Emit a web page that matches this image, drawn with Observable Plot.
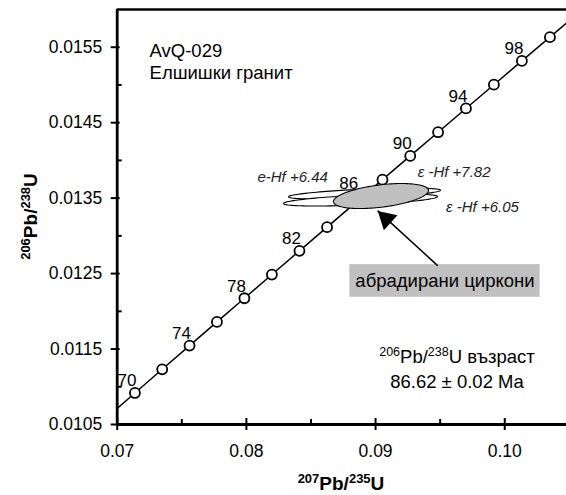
<!DOCTYPE html>
<html><head><meta charset="utf-8">
<script src="https://cdn.jsdelivr.net/npm/d3@7"></script>
<script src="https://cdn.jsdelivr.net/npm/@observablehq/plot@0.6"></script>
<style>
body{margin:0;background:#fff;}
svg{display:block;}
</style>
</head><body><div id="chart"></div>
<script>
// Concordia points (age in Ma, 207Pb/235U, 206Pb/238U)
const ages = [70,72,74,76,78,80,82,84,86,88,90,92,94,96,98,100];
const pb207u235 = [0.0713714,0.0734838,0.0756003,0.0777210,0.0798458,0.0819749,0.0841082,0.0862456,0.0883873,0.0905333,0.0926835,0.0948377,0.0969968,0.0991592,0.1013263,0.1034976];
const pb206u238 = [0.0109179,0.0112316,0.0115454,0.0118593,0.0121733,0.0124873,0.0128015,0.0131158,0.0134301,0.0137446,0.0140592,0.0143738,0.0146886,0.0150034,0.0153184,0.0156334];
// extension of concordia beyond the frame
const extAges = [68,102];
const extX = [0.0692632,0.1056728];
const extY = [0.0106043,0.0159486];
const labeledAges = [70,74,78,82,90,94,98];
const labeledAgeLow = [86];

// error ellipses
const ellName = ["e-Hf +6.44","ε -Hf +6.05","ε -Hf +7.82"];
const ellCX = [0.089141,0.088831,0.090418];
const ellCY = [0.013561,0.013475,0.013528];
const ellSX = [0.005882,0.005960,0.003676];
const ellSY = [0.0000729,0.0000795,0.0001657];
const ellRho = [0.60,0.58,0.44];
const ellFill = ["white","white","#c0c0c0"];

// Hf labels
const hfText = ["e-Hf +6.44","ε -Hf +7.82","ε -Hf +6.05"];
const hfX = [0.080853,0.093256,0.095450];
const hfY = [0.013775,0.013842,0.013378];

// axes
const xDomain = [0.07, 0.10478];
const yDomain = [0.0105, 0.0160];
const xTicks = [0.07,0.08,0.09,0.10];
const xTickLabels = ["0.07","0.08","0.09","0.10"];
const xMinor = [0.075,0.085,0.095];
const yTicks = [0.0105,0.0115,0.0125,0.0135,0.0145,0.0155];
const yTickLabels = ["0.0105","0.0115","0.0125","0.0135","0.0145","0.0155"];
const yMinor = [0.011,0.012,0.013,0.014,0.015];

// annotations
const sampleText = ["AvQ-029","Елшишки гранит"];
const sampleX = [0.072504,0.072504];
const sampleY = [0.015446,0.015160];
const boxText = "абрадирани циркони";
const box = {x1:0.088008, x2:0.102737, y1:0.012186, y2:0.012619, tx:0.095372, ty:0.012407};
const arrow = {x1:0.094806, y1:0.012606, x2:0.090155, y2:0.013334};
const ageText = {x:0.096341, y1:0.011308, y2:0.010977, line2:"86.62 ± 0.02 Ma"};

const FONT = "'Liberation Sans', Arial, sans-serif";

const points = ages.map((a,i)=>({age:a, x:pb207u235[i], y:pb206u238[i]}));
const curve = [{x:extX[0],y:extY[0]}, ...points, {x:extX[1],y:extY[1]}];

function ellipsePts(k){
  const out = [];
  const n = 120;
  for (let j=0;j<=n;j++){
    const t = 2*Math.PI*j/n;
    out.push({name:ellName[k], x: ellCX[k] + ellSX[k]*Math.cos(t),
      y: ellCY[k] + ellSY[k]*(ellRho[k]*Math.cos(t) + Math.sqrt(1-ellRho[k]**2)*Math.sin(t))});
  }
  return out;
}

const chart = Plot.plot({
  width: 566, height: 495,
  marginLeft: 116.7, marginRight: 0, marginTop: 9, marginBottom: 71,
  style: {fontFamily: FONT, background: "white", overflow: "visible"},
  x: {domain: xDomain, axis: null},
  y: {domain: yDomain, axis: null},
  marks: [
    // concordia
    Plot.line(curve, {x:"x", y:"y", stroke:"black", strokeWidth:1.5, clip:true}),
    Plot.dot(points, {x:"x", y:"y", r:5, fill:"white", stroke:"black", strokeWidth:1.8}),
    Plot.text(points.filter(d=>labeledAges.includes(d.age)), {x:"x", y:"y", text:d=>String(d.age), dx:-8, dy:-12, fontSize:17, fill:"black", clip:true}),
    Plot.text(points.filter(d=>labeledAgeLow.includes(d.age)), {x:"x", y:"y", text:d=>String(d.age), dx:-6, dy:-20, fontSize:17, fill:"black"}),
    // ellipses
    ...[0,1,2].map(k => Plot.line(ellipsePts(k), {x:"x", y:"y", curve:"linear-closed", fill: ellFill[k], stroke:"black", strokeWidth:1.1})),
    // Hf labels
    Plot.text(hfText.map((t,i)=>({t, x:hfX[i], y:hfY[i]})), {x:"x", y:"y", text:"t", textAnchor:"start", fontSize:15, fontStyle:"italic", fill:"#222"}),
    // sample name
    Plot.text(sampleText.map((t,i)=>({t, x:sampleX[i], y:sampleY[i]})), {x:"x", y:"y", text:"t", textAnchor:"start", fontSize:18.5, fill:"black"}),
    // box label
    Plot.rect([box], {x1:"x1", x2:"x2", y1:"y1", y2:"y2", fill:"#c0c0c0"}),
    Plot.text([box], {x:"tx", y:"ty", text:()=>boxText, fontSize:18.5, fill:"black"}),
    // arrow
    Plot.link([arrow], {x1:"x1", y1:"y1", x2:"x2", y2:"y2", stroke:"black", strokeWidth:1.5}),
    Plot.dot([arrow], {x:"x2", y:"y2", symbol:"triangle", r:7.5, fill:"black", stroke:"none", rotate:-47.5, dx:8.8, dy:8.1}),
    // frame
    Plot.ruleY([yDomain[1]], {stroke:"black", strokeWidth:2.5}),
    Plot.ruleY([yDomain[0]], {stroke:"black", strokeWidth:2.8}),
    Plot.ruleX([xDomain[0]], {stroke:"black", strokeWidth:2.8}),
    // x ticks
    Plot.ruleX(xTicks, {x:d=>d, y1:yDomain[0], y2:yDomain[0], insetTop:-6, insetBottom:-6, stroke:"black", strokeWidth:2}),
    Plot.ruleX(xMinor, {x:d=>d, y1:yDomain[0], y2:yDomain[0], insetTop:-5, insetBottom:0, stroke:"black", strokeWidth:2}),
    Plot.text(xTicks, {x:d=>d, y:yDomain[0], text:(d,i)=>xTickLabels[i], dy:27, fontSize:17.5, fill:"black"}),
    // y ticks
    Plot.ruleY(yTicks, {y:d=>d, x1:xDomain[0], x2:xDomain[0], insetLeft:-6, insetRight:-3, stroke:"black", strokeWidth:2}),
    Plot.ruleY(yMinor, {y:d=>d, x1:xDomain[0], x2:xDomain[0], insetLeft:0, insetRight:-5, stroke:"black", strokeWidth:2}),
    Plot.text(yTicks, {x:xDomain[0], y:d=>d, text:(d,i)=>yTickLabels[i], textAnchor:"end", dx:-15, fontSize:17.5, fill:"black"})
  ]
});

document.getElementById("chart").appendChild(chart);

// rich text (superscripts)
const svg = d3.select(chart);
const sx = chart.scale("x"), sy = chart.scale("y");
function rich(g, parts, size, supSize, rise){
  let prevSup = false;
  parts.forEach(([t, sup]) => {
    const ts = g.append("tspan").text(t).attr("font-size", sup ? supSize : size);
    if (sup && !prevSup) ts.attr("dy", -rise);
    if (!sup && prevSup) ts.attr("dy", rise);
    prevSup = sup;
  });
}
// x title
const xt = svg.append("text").attr("x", 341).attr("y", 490).attr("text-anchor","middle")
  .attr("font-family", FONT).attr("font-weight","bold").attr("fill","black");
rich(xt, [["207",true],["Pb/",false],["235",true],["U",false]], 19, 13, 7);
// y title
const yt = svg.append("text").attr("transform","translate(37,216.5) rotate(-90)").attr("text-anchor","middle")
  .attr("font-family", FONT).attr("font-weight","bold").attr("fill","black");
rich(yt, [["206",true],["Pb/",false],["238",true],["U",false]], 19, 13, 7);
// age text
const ax = sx.apply(ageText.x);
const at1 = svg.append("text").attr("x", ax).attr("y", sy.apply(ageText.y1)).attr("text-anchor","middle")
  .attr("font-family", FONT).attr("fill","black");
rich(at1, [["206",true],["Pb/",false],["238",true],["U възраст",false]], 18.5, 12.5, 7);
svg.append("text").attr("x", ax).attr("y", sy.apply(ageText.y2)).attr("text-anchor","middle")
  .attr("font-family", FONT).attr("font-size", 18.5).attr("fill","black").text(ageText.line2);
</script>
</body></html>
